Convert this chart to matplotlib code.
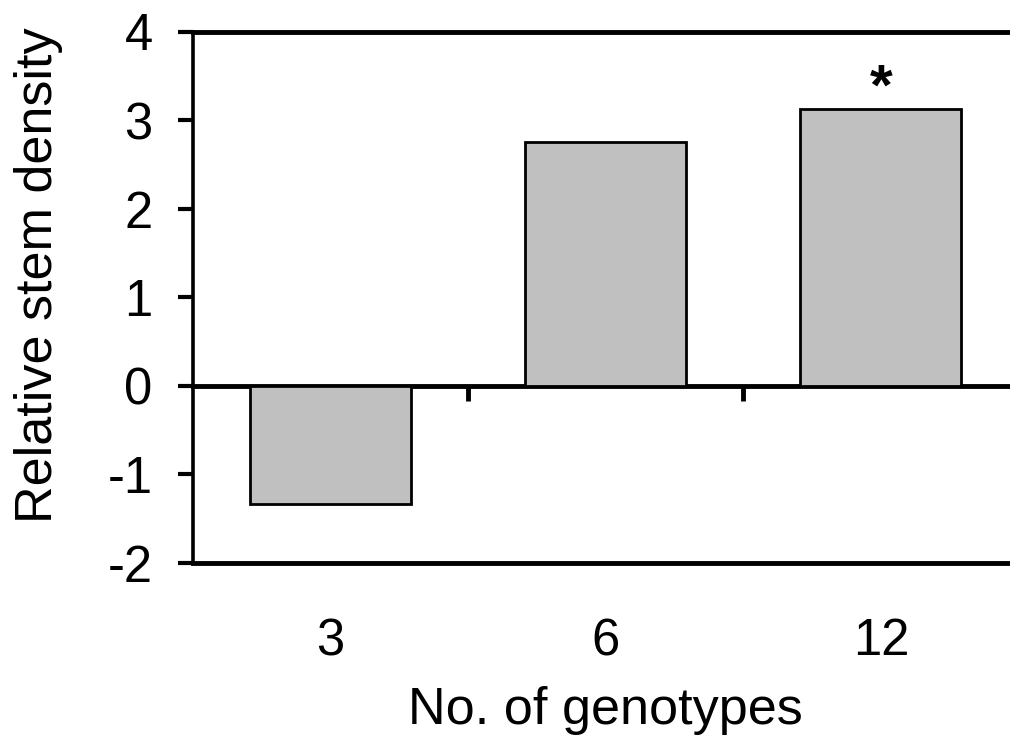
import matplotlib
matplotlib.use("Agg")
import matplotlib.pyplot as plt

# Relative stem density by genotype richness
genotypes = ["3", "6", "12"]
stem_density = [-1.33, 2.75, 3.13]
significant = [False, False, True]

plt.rcParams["font.family"] = ["Liberation Sans", "DejaVu Sans"]
plt.rcParams["axes.unicode_minus"] = False

fig = plt.figure(figsize=(10.1, 7.36), dpi=100)
ax = fig.add_axes([193 / 1010, 1 - 563 / 736, 825.5 / 1010, 531.5 / 736])

x = range(len(genotypes))
ax.bar(x, stem_density, width=0.585, color="#c0c0c0", edgecolor="black",
       linewidth=2.0, zorder=2)

for i, (val, sig) in enumerate(zip(stem_density, significant)):
    if sig:
        ax.annotate("*", (i, val), xytext=(0, -6), textcoords="offset points",
                    ha="center", va="bottom", fontsize=42, fontweight="bold")

ax.set_xlim(-0.5, 2.5)
ax.set_ylim(-2, 4)
ax.set_yticks([-2, -1, 0, 1, 2, 3, 4])

ax.set_xticks(list(x))
ax.set_xticklabels(genotypes)
ax.tick_params(axis="x", length=0, pad=39, labelsize=36.5)
ax.tick_params(axis="y", direction="out", length=11, width=3, pad=18,
               labelsize=36.5)

ax.spines["right"].set_visible(False)
ax.spines["left"].set_linewidth(2.6)
ax.spines["top"].set_linewidth(3.5)
ax.spines["bottom"].set_linewidth(3.5)

# zero line with category separator ticks
zero = ax.secondary_xaxis(0, transform=ax.transData)
zero.set_xticks([0.5, 1.5])
zero.tick_params(axis="x", direction="out", length=11, width=3.5,
                 labelbottom=False, labeltop=False)
zero.spines["bottom"].set_linewidth(3.5)

ax.set_xlabel("No. of genotypes", fontsize=37.5, labelpad=14)
ax.set_ylabel("Relative stem density", fontsize=37.5)
ax.yaxis.set_label_coords(-0.157, 0.542)

fig.savefig("out.png", dpi=100, facecolor="white")
